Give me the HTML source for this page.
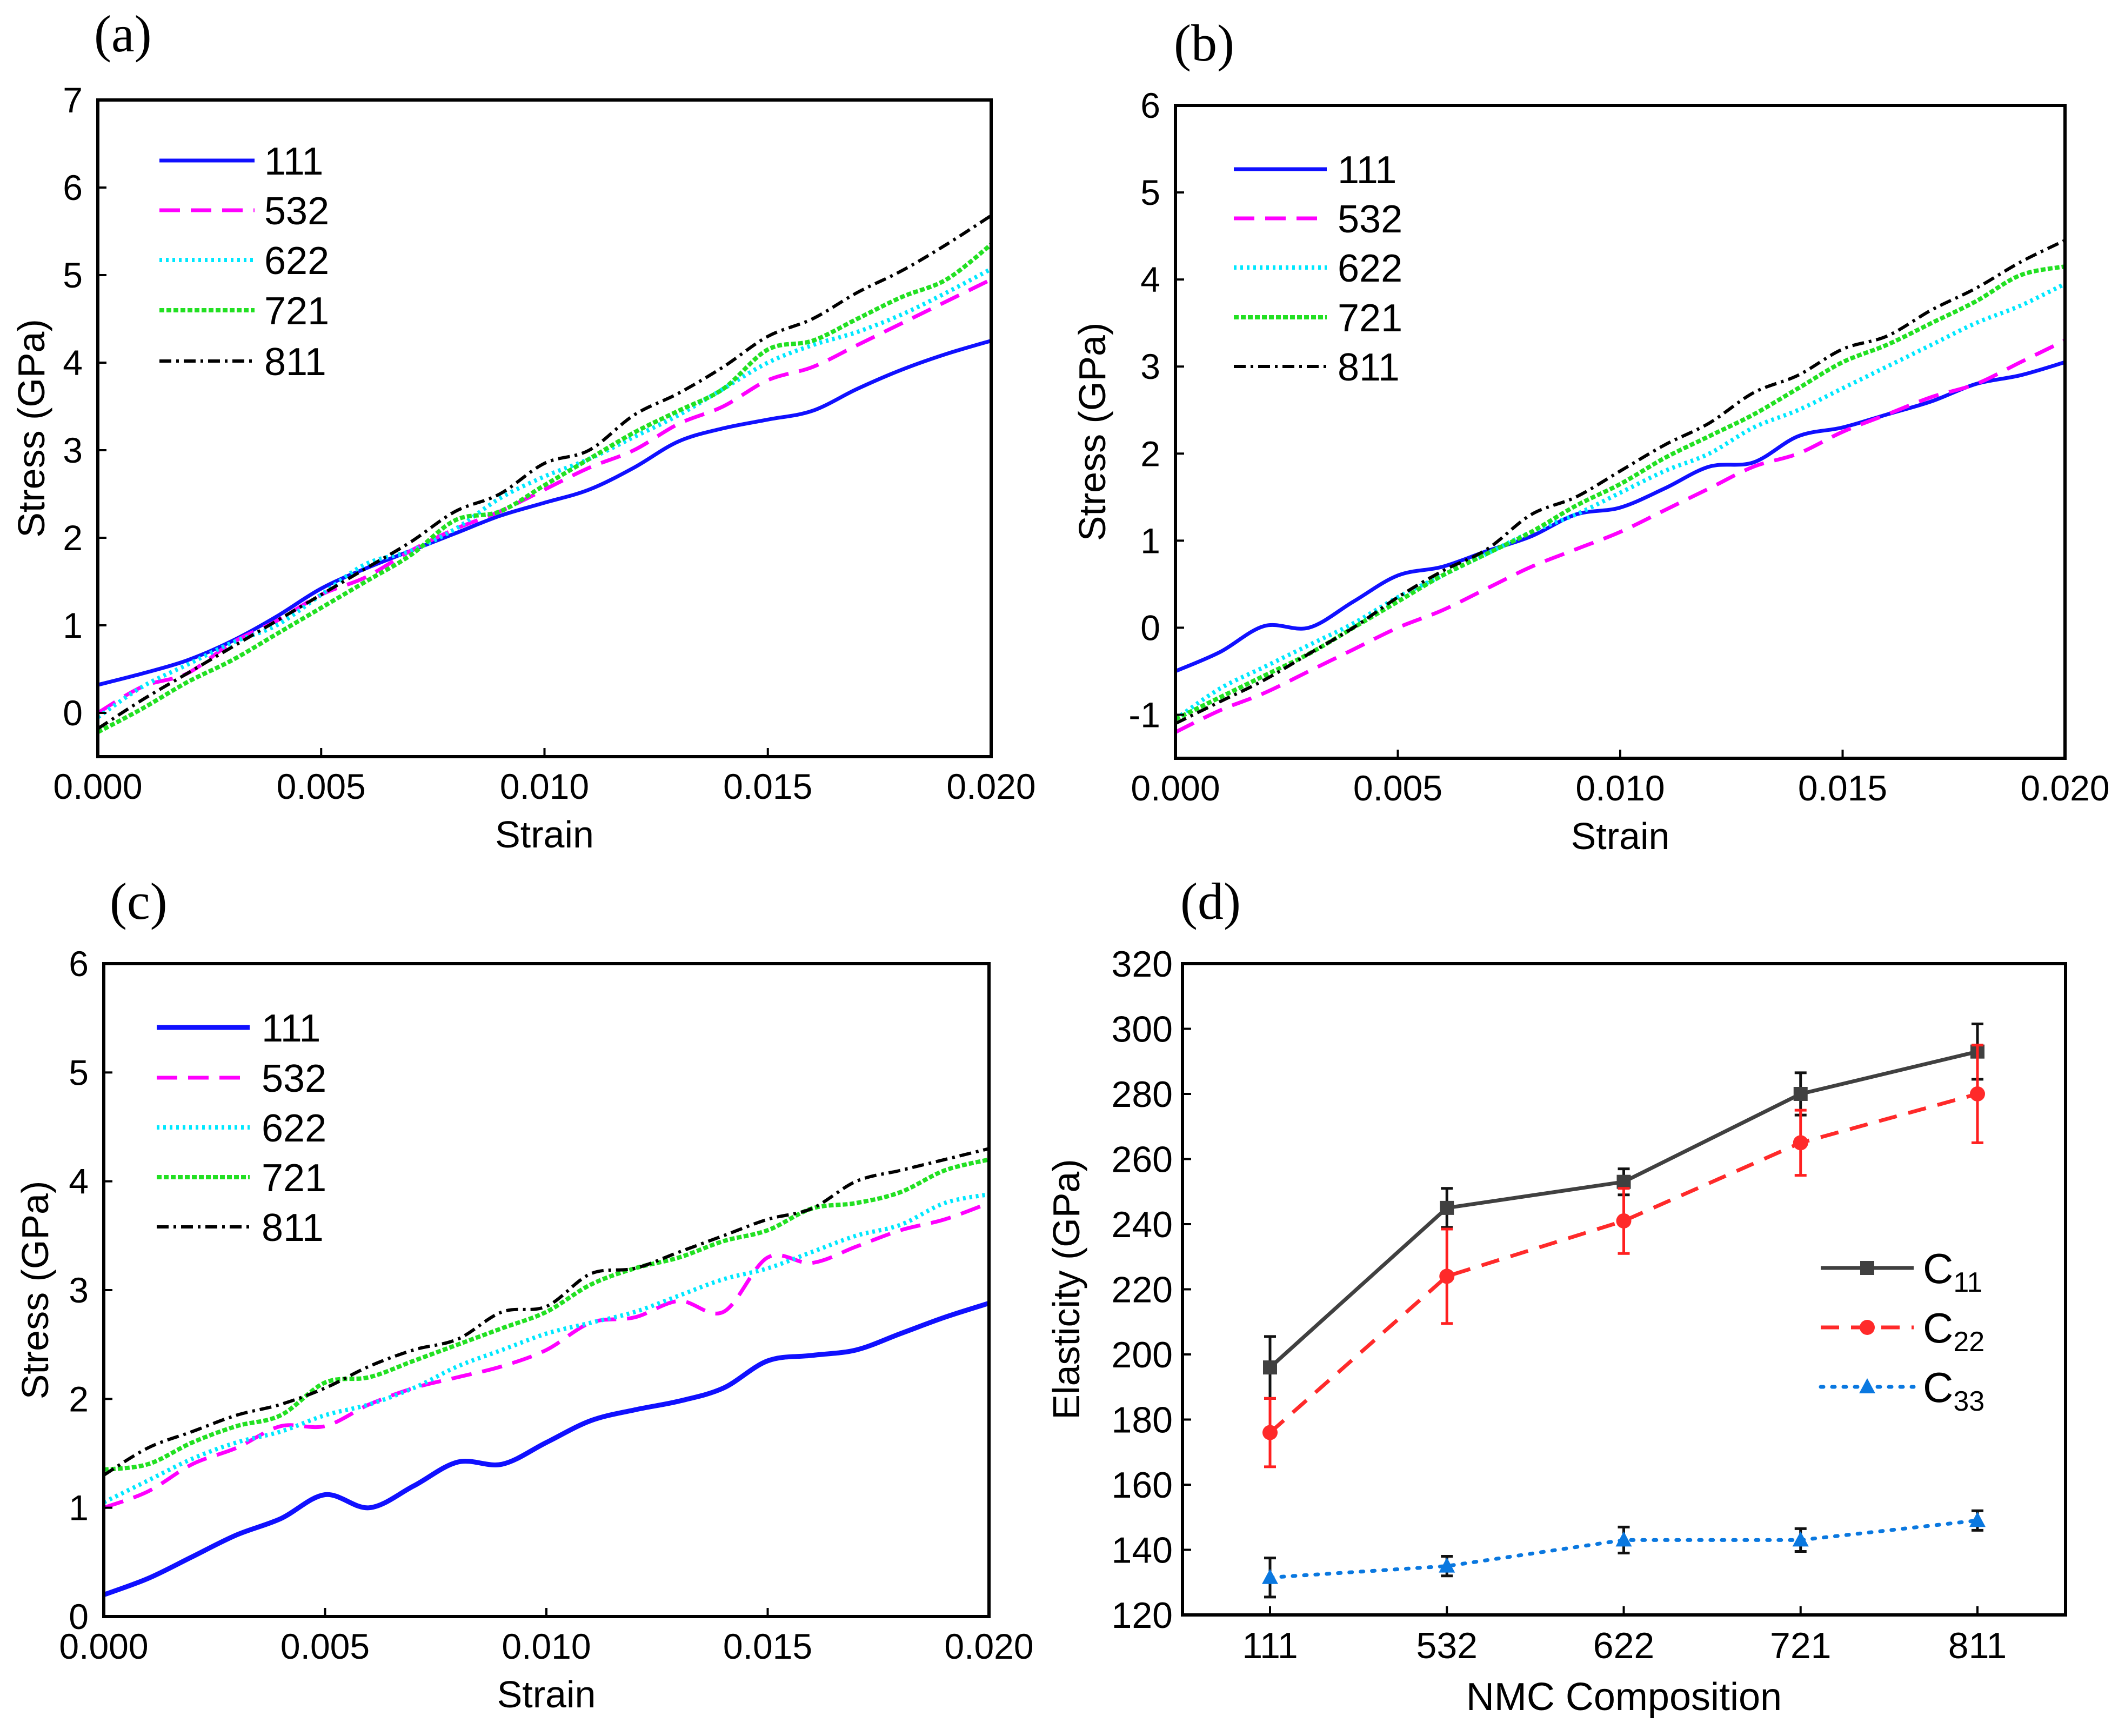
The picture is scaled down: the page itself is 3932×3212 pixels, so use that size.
<!DOCTYPE html>
<html><head><meta charset="utf-8"><style>
html,body{margin:0;padding:0;background:#fff;}
svg{display:block;font-family:"Liberation Sans",Arial,sans-serif;}
</style></head><body>
<svg id="fig" xmlns="http://www.w3.org/2000/svg" width="3932" height="3212" viewBox="0 0 3932 3212"></svg>
<script>
// ---------- data ----------
const strain = [0,0.001,0.002,0.003,0.004,0.005,0.006,0.007,0.008,0.009,0.010,0.011,0.012,0.013,0.014,0.015,0.016,0.017,0.018,0.019,0.020];
const seriesNames = ["111","532","622","721","811"];
const xTicks = [0,0.005,0.010,0.015,0.020];
const xTickLabels = ["0.000","0.005","0.010","0.015","0.020"];

const a111 = [0.32,0.45,0.6,0.82,1.1,1.42,1.65,1.85,2.05,2.25,2.4,2.55,2.8,3.1,3.25,3.35,3.45,3.7,3.92,4.1,4.25];
const a532 = [0,0.3,0.45,0.8,1.05,1.35,1.55,1.85,2.1,2.3,2.55,2.8,3.0,3.3,3.5,3.8,3.95,4.2,4.45,4.7,4.95];
const a622 = [-0.05,0.3,0.55,0.8,1.0,1.35,1.7,1.85,2.1,2.45,2.7,2.9,3.15,3.4,3.7,4.0,4.2,4.35,4.55,4.8,5.07];
const a721 = [-0.22,0.05,0.35,0.6,0.9,1.2,1.5,1.8,2.2,2.3,2.6,2.9,3.2,3.45,3.7,4.15,4.25,4.5,4.75,4.95,5.35];
const a811 = [-0.18,0.15,0.45,0.75,1.05,1.35,1.65,1.95,2.3,2.5,2.85,3.0,3.4,3.65,3.95,4.3,4.5,4.8,5.05,5.35,5.68];

const b111 = [-0.5,-0.28,0.02,0.0,0.3,0.6,0.7,0.88,1.05,1.3,1.38,1.6,1.85,1.9,2.2,2.3,2.45,2.6,2.8,2.9,3.05];
const b532 = [-1.2,-0.95,-0.75,-0.5,-0.25,0.0,0.2,0.45,0.7,0.9,1.1,1.35,1.6,1.85,2.0,2.25,2.45,2.65,2.8,3.05,3.3];
const b622 = [-1.05,-0.7,-0.45,-0.2,0.05,0.35,0.6,0.85,1.1,1.3,1.55,1.8,2.0,2.3,2.5,2.75,3.0,3.25,3.5,3.7,3.95];
const b721 = [-1.05,-0.8,-0.55,-0.3,0.0,0.3,0.6,0.85,1.1,1.4,1.65,1.95,2.2,2.45,2.75,3.05,3.25,3.5,3.75,4.05,4.15];
const b811 = [-1.1,-0.85,-0.6,-0.3,0.0,0.35,0.65,0.9,1.3,1.5,1.8,2.1,2.35,2.7,2.9,3.2,3.35,3.65,3.9,4.2,4.45];

const c111 = [0.2,0.35,0.55,0.75,0.9,1.12,1.0,1.2,1.42,1.4,1.6,1.8,1.9,1.98,2.1,2.35,2.4,2.45,2.6,2.75,2.88];
const c532 = [1.0,1.15,1.4,1.55,1.75,1.75,1.95,2.1,2.2,2.3,2.45,2.7,2.75,2.9,2.8,3.3,3.25,3.4,3.55,3.65,3.8];
const c622 = [1.05,1.25,1.45,1.6,1.7,1.85,1.95,2.1,2.3,2.45,2.6,2.7,2.8,2.95,3.1,3.2,3.35,3.5,3.6,3.8,3.88];
const c721 = [1.35,1.4,1.6,1.75,1.85,2.15,2.2,2.35,2.5,2.65,2.8,3.05,3.2,3.3,3.45,3.55,3.75,3.8,3.9,4.1,4.2];
const c811 = [1.3,1.55,1.7,1.85,1.95,2.1,2.3,2.45,2.55,2.8,2.85,3.15,3.2,3.35,3.5,3.65,3.75,4.0,4.1,4.2,4.3];

const compositions = ["111","532","622","721","811"];
const c11 = [196,245,253,280,293];
const c11Err = [9.5,6,4,6.5,8.5];
const c22 = [176,224,241,265,280];
const c22Err = [10.5,14.5,10,10,15];
const c33 = [131.5,135,143,143,149];
const c33Err = [6,3,4,3.5,3];
const dYTicks = [120,140,160,180,200,220,240,260,280,300,320];

// ---------- helpers ----------
const NS="http://www.w3.org/2000/svg";
const svg=document.getElementById('fig');
function mk(tag,attrs,parent){const e=document.createElementNS(NS,tag);for(const k in attrs)e.setAttribute(k,attrs[k]);(parent||svg).appendChild(e);return e;}
function txt(s,attrs,parent){const e=mk('text',attrs,parent);e.textContent=s;return e;}
function smoothPath(pts){
  let d="M"+pts[0][0].toFixed(1)+","+pts[0][1].toFixed(1);
  for(let i=0;i<pts.length-1;i++){
    const p0=pts[Math.max(0,i-1)],p1=pts[i],p2=pts[i+1],p3=pts[Math.min(pts.length-1,i+2)];
    const c1=[p1[0]+(p2[0]-p0[0])/6,p1[1]+(p2[1]-p0[1])/6];
    const c2=[p2[0]-(p3[0]-p1[0])/6,p2[1]-(p3[1]-p1[1])/6];
    d+=" C"+c1[0].toFixed(1)+","+c1[1].toFixed(1)+" "+c2[0].toFixed(1)+","+c2[1].toFixed(1)+" "+p2[0].toFixed(1)+","+p2[1].toFixed(1);
  }
  return d;
}
const styles={
 "111":{stroke:"#1010ff",dash:"",w:7},
 "532":{stroke:"#ff00ff",dash:"38 20",w:7},
 "622":{stroke:"#00e8ff",dash:"5 7",w:8},
 "721":{stroke:"#22e022",dash:"9 4",w:8},
 "811":{stroke:"#000000",dash:"22 9 5 9",w:6}
};

function stressPanel(id,box,yMin,yMax,yTicks,data,legend,label,ytitleX,blueW){
  const g=mk('g',{});
  
  
  const X=v=>box.l+(v-0)/(0.02)*(box.r-box.l);
  const Y=v=>box.b-(v-yMin)/(yMax-yMin)*(box.b-box.t);
  const clip=mk('clipPath',{id:'clip'+id},g);
  mk('rect',{x:box.l,y:box.t,width:box.r-box.l,height:box.b-box.t},clip);
  seriesNames.forEach((n,i)=>{
    const st=styles[n];
    const pts=strain.map((s,j)=>[X(s),Y(data[i][j])]);
    const p=mk('path',{d:smoothPath(pts),fill:"none",stroke:st.stroke,"stroke-width":(n==="111"&&blueW)?blueW:st.w,"stroke-dasharray":st.dash,"clip-path":"url(#clip"+id+")","stroke-linejoin":"round"},g);
    
    
  });
  const f=mk('rect',{x:box.l,y:box.t,width:box.r-box.l,height:box.b-box.t,fill:"none",stroke:"#000","stroke-width":6},g);
  
  
  xTicks.forEach((v,i)=>{
    mk('line',{x1:X(v),x2:X(v),y1:box.b,y2:box.b-16,stroke:"#000","stroke-width":4},g);
    const t=txt(xTickLabels[i],{x:X(v),y:box.b+78,"font-size":66,"text-anchor":"middle"},g);
    
    
  });
  yTicks.forEach(v=>{
    mk('line',{x1:box.l,x2:box.l+16,y1:Y(v),y2:Y(v),stroke:"#000","stroke-width":4},g);
    const t=txt(String(v),{x:box.l-28,y:Y(v)+23,"font-size":66,"text-anchor":"end"},g);
    
    
  });
  const xt=txt("Strain",{x:(box.l+box.r)/2,y:box.b+168,"font-size":70,"text-anchor":"middle"},g);
  
  
  const yc=(box.t+box.b)/2;
  const yt=txt("Stress (GPa)",{x:ytitleX,y:yc,"font-size":70,"text-anchor":"middle",transform:"rotate(-90 "+ytitleX+" "+yc+")"},g);
  
  
  seriesNames.forEach((n,i)=>{
    const st=styles[n];
    const y=legend.rows[i];
    const le=mk('g',{},g);
    
    
    mk('line',{x1:legend.x1,x2:legend.x2,y1:y,y2:y,stroke:st.stroke,"stroke-width":(n==="111"&&blueW)?blueW:st.w,"stroke-dasharray":st.dash},le);
    txt(n,{x:legend.tx,y:y+26,"font-size":72},le);
  });
  const pl=txt(label.s,{x:label.x,y:label.y,"font-size":96,"font-family":"Liberation Serif, serif"},g);
  
  
}

stressPanel('a',{l:181,r:1834,t:185,b:1400},-0.5,7,[0,1,2,3,4,5,6,7],[a111,a532,a622,a721,a811],
  {x1:295,x2:471,tx:489,rows:[297,389,481,574,668]},{s:"(a)",x:174,y:95},82);
stressPanel('b',{l:2175,r:3821,t:195,b:1403},-1.5,6,[-1,0,1,2,3,4,5,6],[b111,b532,b622,b721,b811],
  {x1:2283,x2:2455,tx:2475,rows:[313,404,495,587,678]},{s:"(b)",x:2172,y:112},2045);
stressPanel('c',{l:192,r:1830,t:1783,b:2991},0,6,[0,1,2,3,4,5,6],[c111,c532,c622,c721,c811],
  {x1:290,x2:462,tx:484,rows:[1901,1994,2086,2178,2270]},{s:"(c)",x:203,y:1700},89,9);

// ---------- panel d ----------
(function(){
  const box={l:2188,r:3822,t:1783,b:2988};
  const g=mk('g',{});
  
  
  const X=i=>2350+i*(3659-2350)/4;
  const Y=v=>box.b-(v-120)/(320-120)*(box.b-box.t);
  const f=mk('rect',{x:box.l,y:box.t,width:box.r-box.l,height:box.b-box.t,fill:"none",stroke:"#000","stroke-width":6},g);
  
  
  compositions.forEach((c,i)=>{
    mk('line',{x1:X(i),x2:X(i),y1:box.b,y2:box.b-16,stroke:"#000","stroke-width":4},g);
    const t=txt(c,{x:X(i),y:box.b+80,"font-size":68,"text-anchor":"middle"},g);
    
    
  });
  dYTicks.forEach(v=>{
    mk('line',{x1:box.l,x2:box.l+16,y1:Y(v),y2:Y(v),stroke:"#000","stroke-width":4},g);
    const t=txt(String(v),{x:box.l-18,y:Y(v)+24,"font-size":68,"text-anchor":"end"},g);
    
    
  });
  const defs=[
    {n:"C11",sub:"11",vals:c11,err:c11Err,color:"#404040",errc:"#111",dash:"",m:"sq"},
    {n:"C22",sub:"22",vals:c22,err:c22Err,color:"#ff2a2a",errc:"#ff2020",dash:"34 22",m:"ci"},
    {n:"C33",sub:"33",vals:c33,err:c33Err,color:"#0a78e0",errc:"#111",dash:"5 16",m:"tr"}
  ];
  function marker(type,x,y,color,parent){
    if(type==="sq") return mk('rect',{x:x-13,y:y-13,width:26,height:26,fill:color},parent);
    if(type==="ci") return mk('circle',{cx:x,cy:y,r:14,fill:color},parent);
    return mk('polygon',{points:(x)+","+(y-16)+" "+(x-15)+","+(y+12)+" "+(x+15)+","+(y+12),fill:color},parent);
  }
  defs.forEach(s=>{
    const sg=mk('g',{},g);
    
    
    const d=s.vals.map((v,i)=>(i?"L":"M")+X(i)+","+Y(v)).join(" ");
    mk('path',{d:d,fill:"none",stroke:s.color,"stroke-width":7,"stroke-dasharray":s.dash,"stroke-linecap":s.m==="tr"?"round":"butt"},sg);
    s.vals.forEach((v,i)=>{
      const eb=mk('g',{},sg);
      
      
      const x=X(i),y1=Y(v+s.err[i]),y2=Y(v-s.err[i]);
      mk('line',{x1:x,x2:x,y1:y1,y2:y2,stroke:s.errc,"stroke-width":5},eb);
      mk('line',{x1:x-11,x2:x+11,y1:y1,y2:y1,stroke:s.errc,"stroke-width":5},eb);
      mk('line',{x1:x-11,x2:x+11,y1:y2,y2:y2,stroke:s.errc,"stroke-width":5},eb);
      const m=marker(s.m,x,Y(v),s.color,sg);
      
      
    });
  });
  const rows=[2346,2456,2566];
  defs.forEach((s,i)=>{
    const le=mk('g',{},g);
    
    
    mk('line',{x1:3369,x2:3541,y1:rows[i],y2:rows[i],stroke:s.color,"stroke-width":7,"stroke-dasharray":s.dash,"stroke-linecap":s.m==="tr"?"round":"butt"},le);
    marker(s.m,3455,rows[i],s.color,le);
    const t=txt("C",{x:3558,y:rows[i]+28,"font-size":78},le);
    const ts=mk('tspan',{"font-size":52,dy:16},t);ts.textContent=s.sub;
  });
  const xt=txt("NMC Composition",{x:(box.l+box.r)/2,y:box.b+176,"font-size":72,"text-anchor":"middle"},g);
  
  
  const yc=(box.t+box.b)/2;
  const yt=txt("Elasticity (GPa)",{x:1997,y:yc,"font-size":70,"text-anchor":"middle",transform:"rotate(-90 1997 "+yc+")"},g);
  
  
  const pl=txt("(d)",{x:2184,y:1700,"font-size":96,"font-family":"Liberation Serif, serif"},g);
  
  
})();
</script>
</body></html>
